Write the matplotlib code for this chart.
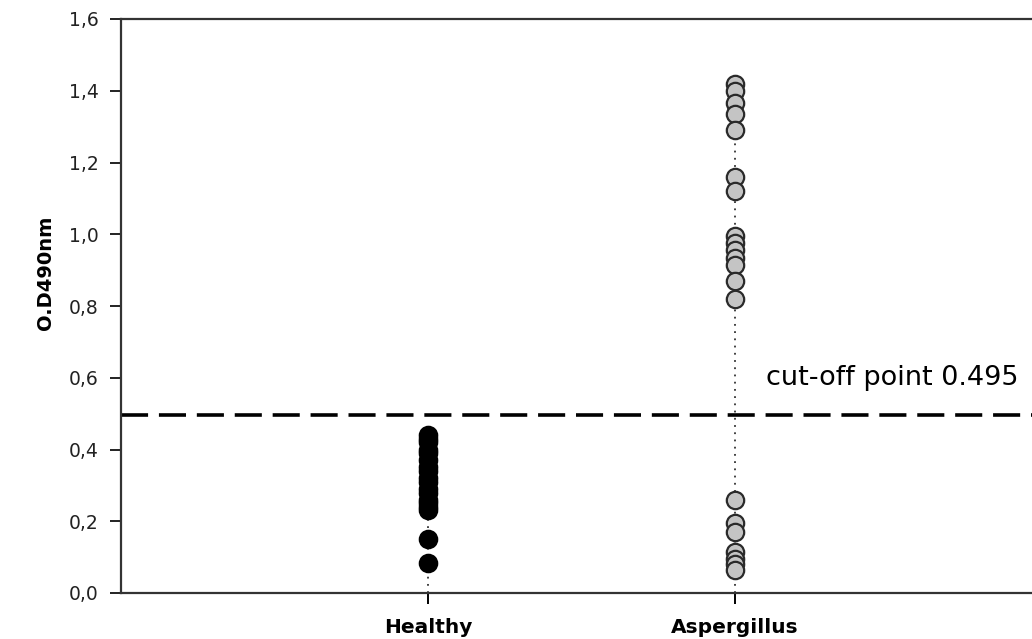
import matplotlib
matplotlib.use("Agg")
import matplotlib.pyplot as plt
from matplotlib.ticker import FuncFormatter

# values (O.D 490nm)
groups = ["Healthy", "Aspergillus"]
healthy = [0.44, 0.43, 0.42, 0.40, 0.39, 0.37, 0.35, 0.34, 0.32,
           0.31, 0.29, 0.28, 0.26, 0.25, 0.24, 0.23, 0.15, 0.085]
aspergillus = [1.42, 1.40, 1.365, 1.335, 1.29, 1.16, 1.12,
               0.995, 0.975, 0.955, 0.935, 0.915, 0.87, 0.82,
               0.26, 0.195, 0.17, 0.115, 0.095, 0.08, 0.065]
cutoff = 0.495
yticks = [0.0, 0.2, 0.4, 0.6, 0.8, 1.0, 1.2, 1.4, 1.6]

fig = plt.figure(figsize=(10.32, 6.39), dpi=100)
ax = fig.add_axes([121 / 1032, 46 / 639, 921 / 1032, 574 / 639])

xpos = [1, 2]
data = [healthy, aspergillus]
face = ["black", "#c4c4c4"]
edge = ["black", "#2a2a2a"]
for x, vals, fc, ec in zip(xpos, data, face, edge):
    ax.plot([x, x], [0, max(vals)], ls=(0, (1, 3)), color="#333333", lw=1.3, zorder=1)
    ax.plot([x] * len(vals), vals, "o", ms=12.5, mfc=fc, mec=ec, mew=1.6, zorder=3)

ax.axhline(cutoff, color="black", lw=2.6, ls=(0, (7.5, 3)), zorder=2)
ax.text(2.1, 0.60, "cut-off point 0.495", fontsize=19.5, va="center", ha="left")

ax.set_xlim(0, 3)
ax.set_ylim(0, 1.6)
ax.set_xticks(xpos)
ax.set_xticklabels(groups, fontsize=14.5, fontweight="bold")
ax.set_yticks(yticks)
ax.yaxis.set_major_formatter(FuncFormatter(lambda v, p: f"{v:.1f}".replace(".", ",")))
ax.tick_params(axis="y", labelsize=13.5, length=8, width=1.4, direction="out",
               pad=8, colors="#222222")
ax.tick_params(axis="x", length=8, width=1.4, direction="out", pad=10)
ax.set_ylabel("O.D490nm", fontsize=14, fontweight="bold")
ax.yaxis.set_label_coords(-0.072, 0.557)

for s in ax.spines.values():
    s.set_linewidth(1.6)
    s.set_color("#333333")

fig.savefig("out.png", dpi=100)
